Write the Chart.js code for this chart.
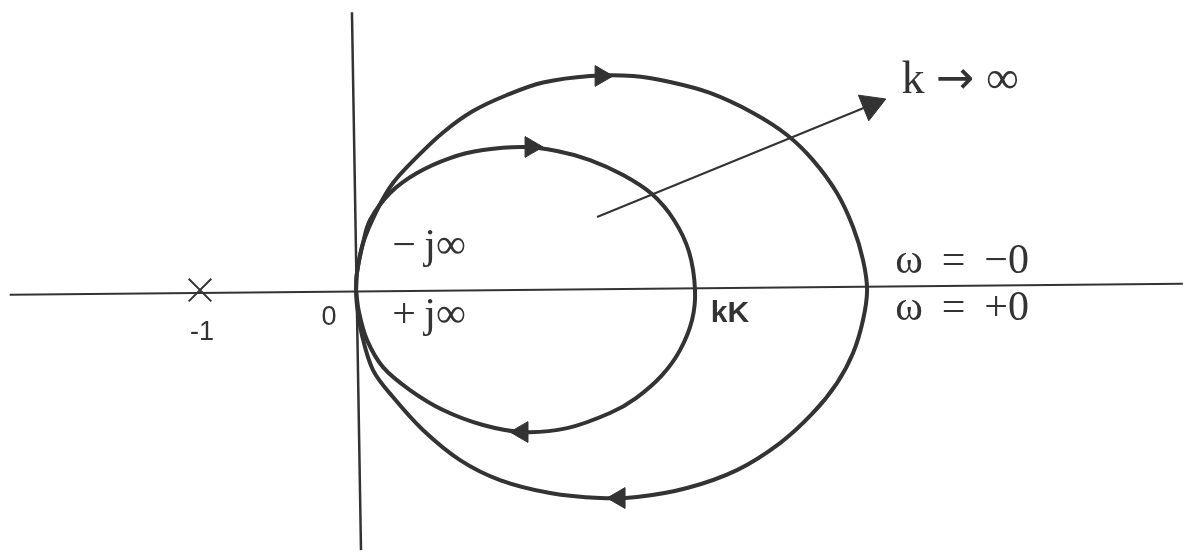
<!DOCTYPE html>
<html>
<head>
<meta charset="utf-8">
<script src="https://cdn.jsdelivr.net/npm/chart.js@4"></script>
<style>
  html, body { margin: 0; padding: 0; background: #fff; }
  canvas { display: block; }
</style>
</head>
<body>
<canvas id="nyquist" width="1183" height="552"></canvas>
<script>
const innerLocus = [
  [0, 0], [0.006, 0.109], [0.045, 0.301], [0.090, 0.449], [0.218, 0.622],
  [0.391, 0.75], [0.603, 0.846], [0.814, 0.897], [1.071, 0.917], [1.288, 0.891],
  [1.5, 0.833], [1.712, 0.737], [1.897, 0.615], [2.038, 0.449], [2.135, 0.244],
  [2.173, 0], [2.154, -0.192], [2.077, -0.385], [1.962, -0.545], [1.795, -0.692],
  [1.628, -0.788], [1.353, -0.885], [1.071, -0.910], [0.814, -0.865], [0.558, -0.769],
  [0.346, -0.641], [0.173, -0.494], [0.071, -0.321], [0.019, -0.141], [0, 0]
];
const outerLocus = [
  [0, 0], [0.006, 0.109], [0.045, 0.301], [0.135, 0.513], [0.237, 0.686],
  [0.391, 0.853], [0.558, 1.010], [0.750, 1.147], [0.968, 1.250], [1.199, 1.330],
  [1.5, 1.372], [1.776, 1.372], [2.013, 1.333], [2.269, 1.263], [2.545, 1.135],
  [2.763, 0.994], [2.929, 0.833], [3.083, 0.622], [3.186, 0.404], [3.25, 0.192],
  [3.276, 0], [3.25, -0.192], [3.186, -0.404], [3.083, -0.596], [2.929, -0.788],
  [2.718, -0.981], [2.442, -1.154], [2.122, -1.269], [1.801, -1.327], [1.564, -1.333],
  [1.244, -1.301], [0.923, -1.218], [0.667, -1.090], [0.429, -0.897], [0.237, -0.686],
  [0.109, -0.513], [0.038, -0.288], [0.006, -0.096], [0, 0]
];
// direction arrows sitting on the loci
const arrowsRight = [[1.571, 1.372], [1.122, 0.917]];
const arrowsLeft = [[1.686, -1.333], [1.064, -0.910]];
// k -> infinity pointer
const gainPointer = [[1.545, 0.468], [3.301, 1.186]];
const gainHead = [[3.301, 1.186]];
// axes and the -1 point
const realAxis = [[-2.22, -0.03], [5.30, 0.04]];
const imagAxis = [[-0.026, 1.78], [0.032, -1.667]];
const criticalPoint = [[-1, 0]];
// text labels
const labelTexts = ['-1', '0', '\u2212\u2009j\u221E', '+\u2009j\u221E', 'kK',
  '\u03C9 \u2009= \u2009\u22120', '\u03C9 \u2009= \u2009+0', 'k \u2192 \u221E'];
const labelAt = [[-0.987, -0.32], [-0.173, -0.225], [0.468, 0.205], [0.468, -0.237], [2.397, -0.205],
  [3.885, 0.109], [3.885, -0.192], [3.872, 1.263]];

const toPts = arr => arr.map(p => ({ x: p[0], y: p[1] }));
const ink = '#333333';

// draws text centred on x, using altFont for the arrow glyph
function drawMixed(ctx, text, x, y, mainFont, altFont) {
  const runs = [];
  for (const ch of text) {
    const f = ch === '\u2192' ? altFont : mainFont;
    if (runs.length && runs[runs.length - 1].f === f) runs[runs.length - 1].t += ch;
    else runs.push({ t: ch, f: f });
  }
  let total = 0;
  runs.forEach(r => { ctx.font = r.f; r.w = ctx.measureText(r.t).width; total += r.w; });
  let cx = x - total / 2;
  ctx.textAlign = 'left';
  runs.forEach(r => { ctx.font = r.f; ctx.fillText(r.t, cx, y); cx += r.w; });
}

const labelPlugin = {
  id: 'labels',
  afterDatasetsDraw(chart) {
    const ctx = chart.ctx;
    const xs = chart.scales.x, ys = chart.scales.y;
    ctx.save();
    ctx.fillStyle = ink;
    ctx.textBaseline = 'alphabetic';
    labelTexts.forEach((t, i) => {
      const px = xs.getPixelForValue(labelAt[i][0]);
      const py = ys.getPixelForValue(labelAt[i][1]);
      let font = '42px "Liberation Serif"';
      if (i < 2) font = '27px "Liberation Sans"';
      else if (i === 4) font = 'bold 30px "Liberation Sans"';
      else if (i === 7) font = '46px "Liberation Serif"';
      drawMixed(ctx, t, px, py, font, '46px "DejaVu Sans"');
    });
    ctx.restore();
  }
};

new Chart(document.getElementById('nyquist'), {
  type: 'scatter',
  data: {
    datasets: [
      { data: toPts(realAxis), showLine: true, borderColor: ink, borderWidth: 2, pointRadius: 0 },
      { data: toPts(imagAxis), showLine: true, borderColor: ink, borderWidth: 2.5, pointRadius: 0 },
      { data: toPts(innerLocus), showLine: true, borderColor: ink, borderWidth: 4, pointRadius: 0, tension: 0.35 },
      { data: toPts(outerLocus), showLine: true, borderColor: ink, borderWidth: 4, pointRadius: 0, tension: 0.35 },
      { data: toPts(gainPointer), showLine: true, borderColor: ink, borderWidth: 2, pointRadius: 0 },
      { data: toPts(gainHead), pointStyle: 'triangle', rotation: 68, pointRadius: 16,
        backgroundColor: ink, borderColor: ink, borderWidth: 1 },
      { data: toPts(arrowsRight), pointStyle: 'triangle', rotation: 90, pointRadius: 12,
        backgroundColor: ink, borderColor: ink, borderWidth: 1 },
      { data: toPts(arrowsLeft), pointStyle: 'triangle', rotation: 270, pointRadius: 12,
        backgroundColor: ink, borderColor: ink, borderWidth: 1 },
      { data: toPts(criticalPoint), pointStyle: 'crossRot', pointRadius: 16,
        borderColor: ink, borderWidth: 2 }
    ]
  },
  options: {
    responsive: false,
    animation: false,
    layout: { padding: 0, autoPadding: false },
    plugins: { legend: { display: false }, tooltip: { enabled: false } },
    scales: {
      x: { type: 'linear', min: -2.282, max: 5.301, display: false },
      y: { type: 'linear', min: -1.679, max: 1.859, display: false }
    }
  },
  plugins: [labelPlugin]
});
</script>
</body>
</html>
